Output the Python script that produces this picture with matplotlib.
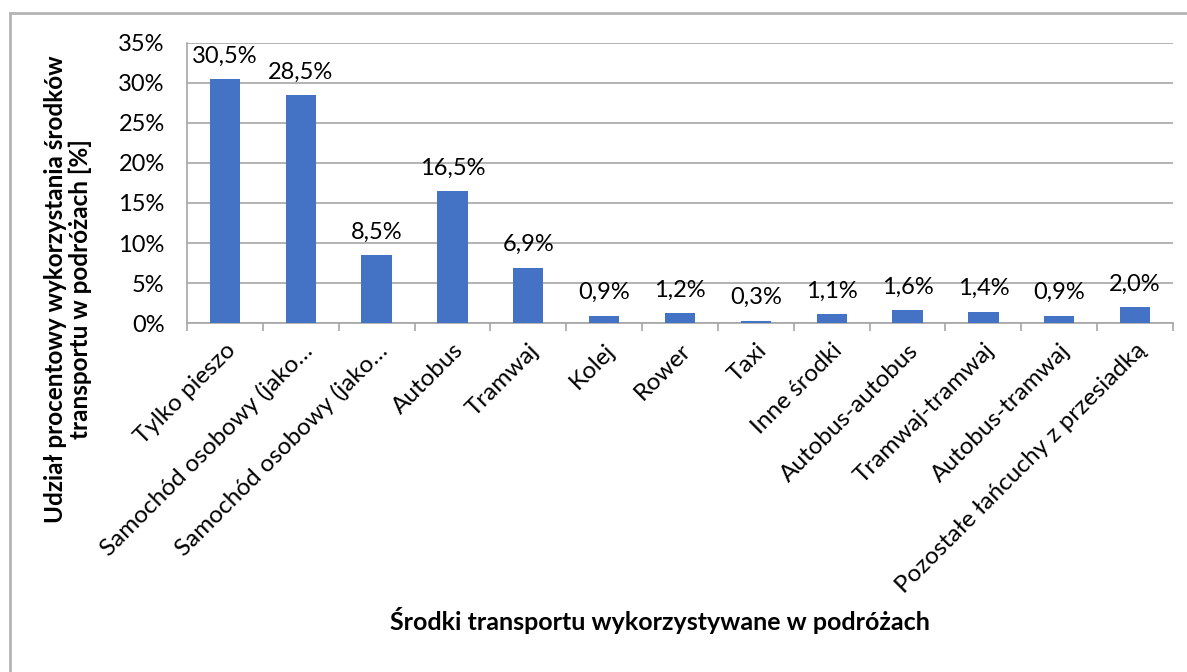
import matplotlib.pyplot as plt
import numpy as np
from matplotlib.patches import Rectangle

categories = ['Tylko pieszo', 'Samochód osobowy (jako…', 'Samochód osobowy (jako…',
              'Autobus', 'Tramwaj', 'Kolej', 'Rower', 'Taxi', 'Inne środki',
              'Autobus-autobus', 'Tramwaj-tramwaj', 'Autobus-tramwaj',
              'Pozostałe łańcuchy z przesiadką']
shares = [30.5, 28.5, 8.5, 16.5, 6.9, 0.9, 1.2, 0.3, 1.1, 1.6, 1.4, 0.9, 2.0]
yticks = [0, 5, 10, 15, 20, 25, 30, 35]

plt.rcParams['font.family'] = ['Lato', 'DejaVu Sans']
fs = 17

fig = plt.figure(figsize=(11.87, 6.72), dpi=100)
ax = fig.add_axes([187/1187, 1 - 323/672, (1173-187)/1187, (323-43)/672])

# outer chart frame
fig.patches.append(Rectangle((10/1187, -0.1), 1.2, 1 - 13/672 + 0.1, transform=fig.transFigure,
                             fill=False, edgecolor='#B4B4B4', linewidth=2))

x = np.arange(len(categories))
ax.bar(x, shares, width=0.4, color='#4472C4', zorder=3)
for xi, v in zip(x, shares):
    ax.annotate(f'{v:.1f}%'.replace('.', ','), (xi, v), xytext=(0, 9), textcoords='offset points',
                ha='center', va='bottom', fontsize=fs)

ax.set_xlim(-0.5, len(categories) - 0.5)
ax.set_ylim(0, 35)
ax.set_yticks(yticks)
ax.set_yticklabels([f'{t}%' for t in yticks], fontsize=fs)
ax.yaxis.grid(True, color='#A6A6A6', linewidth=1.2, zorder=0)
ax.tick_params(axis='y', length=0, pad=16)

ax.set_xticks(x)
ax.set_xticklabels(categories, rotation=45, ha='right', rotation_mode='anchor', fontsize=17.5)
ax.set_xticks(np.arange(len(categories) + 1) - 0.5, minor=True)
ax.tick_params(axis='x', which='major', length=0, pad=12)
ax.tick_params(axis='x', which='minor', length=6, color='#A6A6A6', width=1.2)

for s in ['top', 'right']:
    ax.spines[s].set_visible(False)
ax.spines['left'].set_color('#A6A6A6')
ax.spines['bottom'].set_color('#A6A6A6')
ax.spines['left'].set_linewidth(1.2)
ax.spines['bottom'].set_linewidth(1.2)

fig.text(68/1187, 1 - 289/672, 'Udział procentowy wykorzystania środków\ntransportu w podróżach [%]',
         rotation=90, ha='center', va='center', fontsize=17.5, fontweight='bold', linespacing=1.1)
fig.text(660/1187, 1 - 620/672, 'Środki transportu wykorzystywane w podróżach',
         ha='center', va='center', fontsize=18, fontweight='bold')

fig.savefig('out.png', dpi=100)
